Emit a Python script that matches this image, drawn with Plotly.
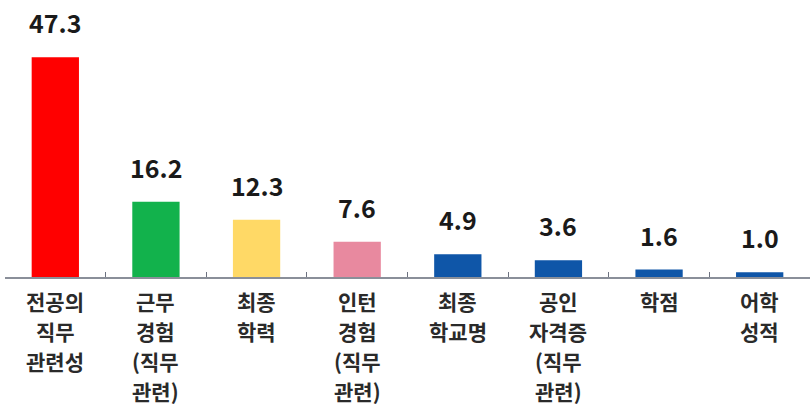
import plotly.graph_objects as go

categories = ["전공의<br>직무<br>관련성", "근무<br>경험<br>(직무<br>관련)", "최종<br>학력",
              "인턴<br>경험<br>(직무<br>관련)", "최종<br>학교명", "공인<br>자격증<br>(직무<br>관련)",
              "학점", "어학<br>성적"]
values = [47.3, 16.2, 12.3, 7.6, 4.9, 3.6, 1.6, 1.0]
value_labels = ["47.3", "16.2", "12.3", "7.6", "4.9", "3.6", "1.6", "1.0"]
colors = ["#FF0000", "#12B24C", "#FFD966", "#E8899F", "#0F56A8", "#0F56A8", "#0F56A8", "#0F56A8"]

fig = go.Figure(go.Bar(x=categories, y=values, marker_color=colors, width=0.47,
                       marker_line_width=0))

for c, v, t in zip(categories, values, value_labels):
    fig.add_annotation(x=c, y=v, text=t, showarrow=False, yanchor="bottom", yshift=15,
                       font=dict(family="Noto Sans CJK KR", size=25, color="#1a1a1a", weight="bold"))

# category labels, one annotation per line for controlled line spacing
for c in categories:
    for i, line in enumerate(c.split("<br>")):
        fig.add_annotation(x=c, y=0, yref="paper", text=line, showarrow=False,
                           yanchor="top", yshift=-7 - 30 * i,
                           font=dict(family="Noto Sans CJK KR", size=21, color="#2a2a2a", weight="bold"))

fig.update_layout(
    width=810, height=408,
    margin=dict(l=5, r=0, t=0, b=131),
    plot_bgcolor="white", paper_bgcolor="white",
    showlegend=False,
)
fig.update_xaxes(showline=True, linecolor="#8a8f99", linewidth=2, automargin=False,
                 ticks="inside", tickson="boundaries", ticklen=5, tickcolor="#6d7280",
                 showticklabels=False, showgrid=False)
fig.update_yaxes(range=[0, 59.6], visible=False, showgrid=False, automargin=False)

fig.write_html("out.html", config={"displayModeBar": False},
               post_script="document.body.style.margin='0';")
